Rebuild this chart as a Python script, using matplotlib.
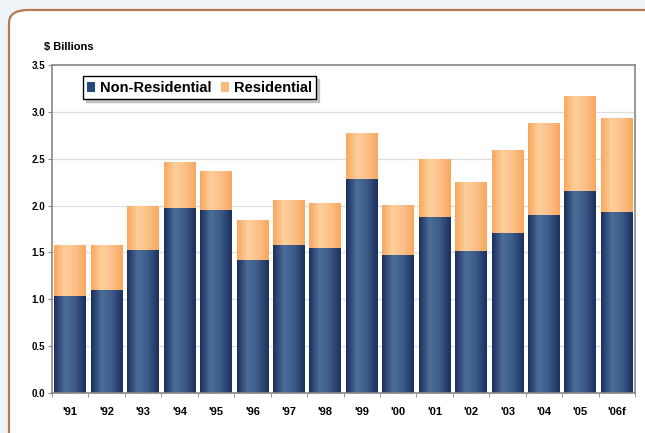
import matplotlib
matplotlib.use("Agg")
import matplotlib.pyplot as plt
import numpy as np
from matplotlib.patches import FancyBboxPatch, Rectangle
from matplotlib.colors import LinearSegmentedColormap

plt.rcParams['font.family'] = ['Liberation Sans', 'DejaVu Sans']

years = ["'91", "'92", "'93", "'94", "'95", "'96", "'97", "'98",
         "'99", "'00", "'01", "'02", "'03", "'04", "'05", "'06f"]
non_residential = [1.04, 1.10, 1.53, 1.97, 1.95, 1.42, 1.58, 1.55,
                   2.28, 1.47, 1.88, 1.51, 1.71, 1.90, 2.16, 1.93]
total = [1.58, 1.58, 2.00, 2.46, 2.37, 1.85, 2.06, 2.03,
         2.77, 2.01, 2.50, 2.25, 2.59, 2.88, 3.17, 2.93]
residential = [t - n for t, n in zip(total, non_residential)]

navy = "#254a7c"
orange = "#fcbb7c"
navy_cmap = LinearSegmentedColormap.from_list("navy", ["#1b2f5c", "#4c6d99", "#3a5a88", "#1b2f5c"])
orange_cmap = LinearSegmentedColormap.from_list("orng", ["#f8a85e", "#fdcf9c", "#fcc088", "#f8a85e"])

W, H = 645, 433
fig = plt.figure(figsize=(W / 100, H / 100), dpi=100)
fig.patch.set_facecolor("#eef3f7")

# frame with rounded corner, runs off the right and bottom edge
frame = FancyBboxPatch((9 / W, -0.1), 1.2, (H - 10) / H + 0.1,
                       boxstyle="round,pad=0,rounding_size=0.03",
                       transform=fig.transFigure, facecolor="white",
                       edgecolor="#b57a4e", linewidth=1.6, zorder=-10)
fig.patches.append(frame)

ax = fig.add_axes([52 / W, (H - 393) / H, (635 - 52) / W, (393 - 65) / H])
ax.set_facecolor("white")

x = np.arange(len(years))
width = 0.87
grad = np.linspace(0, 1, 64).reshape(1, -1)


def gradient_bar(x0, bottom, height, cmap):
    rect = Rectangle((x0 - width / 2, bottom), width, height,
                     facecolor="none", edgecolor="none")
    ax.add_patch(rect)
    im = ax.imshow(grad, cmap=cmap, aspect="auto",
                   extent=(x0 - width / 2, x0 + width / 2, bottom, bottom + height),
                   zorder=2)
    im.set_clip_path(rect)


for i in x:
    gradient_bar(i, 0, non_residential[i], navy_cmap)
    gradient_bar(i, non_residential[i], residential[i], orange_cmap)

# proxy handles for the legend
h1 = ax.bar([0], [0], color=navy, label="Non-Residential")
h2 = ax.bar([0], [0], color=orange, label="Residential")

ax.set_xlim(-0.5, len(years) - 0.5)
ax.set_ylim(0, 3.5)
ax.set_yticks(np.arange(0, 3.51, 0.5))
ax.set_yticklabels([f"{v:.1f}" for v in np.arange(0, 3.51, 0.5)],
                   fontsize=7, fontweight="bold")
ax.set_xticks(x)
ax.set_xticklabels(years, fontsize=8, fontweight="bold")
ax.set_xticks(np.arange(-0.5, len(years), 1), minor=True)
ax.tick_params(axis="x", which="major", length=0, pad=10)
ax.tick_params(axis="x", which="minor", length=3, color="#888888")
ax.tick_params(axis="y", length=3, color="#888888", pad=2)
ax.grid(axis="y", color="#dddddd", linewidth=0.9, zorder=0)
ax.set_axisbelow(True)
for s in ax.spines.values():
    s.set_color("#888888")
    s.set_linewidth(1.2)

leg = ax.legend(handles=[h1, h2], loc="upper left", bbox_to_anchor=(0.053, 0.965),
                borderaxespad=0, ncol=2, prop={"weight": "bold", "size": 10.5},
                handlelength=0.55, handleheight=0.7, handletextpad=0.3,
                columnspacing=0.7, borderpad=0.3, fancybox=False,
                shadow={"ox": 2, "oy": -2, "color": "#999999"},
                framealpha=1, edgecolor="black")
leg.get_frame().set_linewidth(1.0)

fig.text(44 / W, (H - 47) / H, "$ Billions", fontsize=8, fontweight="bold",
         va="center", ha="left")

fig.savefig("out.png", dpi=100, facecolor=fig.get_facecolor())
